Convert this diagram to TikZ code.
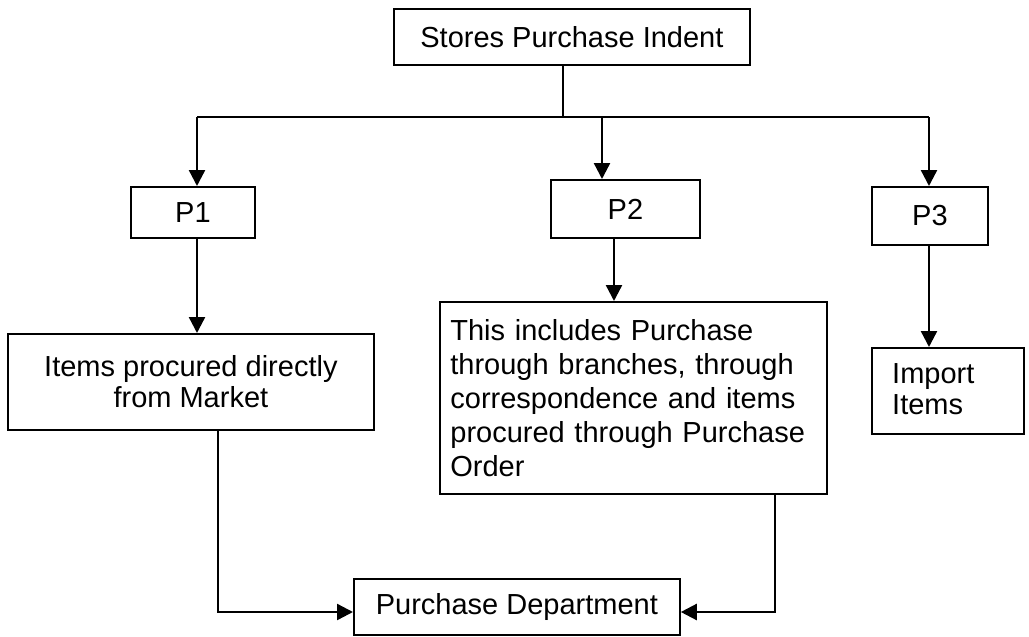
\documentclass[tikz,border=0pt]{standalone}
\usepackage{fontspec}
\setmainfont{Liberation Sans}
\usetikzlibrary{arrows.meta,calc}
\begin{document}
\begin{tikzpicture}[x=1pt,y=-1pt,
  box/.style={draw,line width=1.8pt,inner sep=0pt,anchor=north west,
    font=\fontsize{29}{34}\selectfont},
  txt/.style={inner sep=0pt,font=\fontsize{29}{34}\selectfont},
  link/.style={line width=1.5pt},
  arrowlink/.style={line width=2.4pt,-{Triangle[width=16pt,length=16pt]}}]
\useasboundingbox (0,0) rectangle (1029,637);

% boxes
\node[box,minimum width=356pt,minimum height=56pt] (spi) at (393,8) {Stores Purchase Indent};
\node[box,minimum width=124pt,minimum height=51pt] (p1) at (130,186) {P1};
\node[box,minimum width=149pt,minimum height=58pt] (p2) at (550,179) {P2};
\node[box,minimum width=116pt,minimum height=58pt] (p3) at (871,186) {P3};
\node[box,minimum width=366pt,minimum height=96pt,align=center,
  font=\fontsize{29}{31}\selectfont] (items) at (7,333)
  {Items procured directly\\from Market};
\node[box,minimum width=387pt,minimum height=192pt,text width=366pt,align=left] (mid) at (439,301)
  {This includes Purchase\\through branches, through\\correspondence and items\\procured through Purchase\\Order};
\node[box,minimum width=152pt,minimum height=86pt] (imp) at (871,347) {};
\node[txt,anchor=north west,align=left,font=\fontsize{29}{31}\selectfont] (imptext)
  at ($(imp.north west)+(21,16)$) {Import\\Items};
\node[box,minimum width=326pt,minimum height=56pt] (pd) at (353,578) {Purchase Department};

% branch points
\coordinate (hl) at (197,117);
\coordinate (hm) at (602,117);
\coordinate (hr) at (929,117);
\coordinate (p2d) at (614,0);
\coordinate (lb) at (218,0);
\coordinate (rb) at (775,0);
\coordinate (feed) at (0,612);

% connectors
\draw[link] (spi.south -| 563,0) -- (563,117);
\draw[link] (hl) -- (hr);
\draw[arrowlink] (hl) -- (hl |- p1.north);
\draw[arrowlink] (hm) -- (hm |- p2.north);
\draw[arrowlink] (hr) -- (hr |- p3.north);
\draw[arrowlink] (p1.south -| hl) -- (hl |- items.north);
\draw[arrowlink] (p2.south -| p2d) -- (p2d |- mid.north);
\draw[arrowlink] (p3.south -| hr) -- (hr |- imp.north);
\draw[arrowlink] (items.south -| lb) |- (pd.west |- feed);
\draw[arrowlink] (mid.south -| rb) |- (pd.east |- feed);
\end{tikzpicture}
\end{document}
